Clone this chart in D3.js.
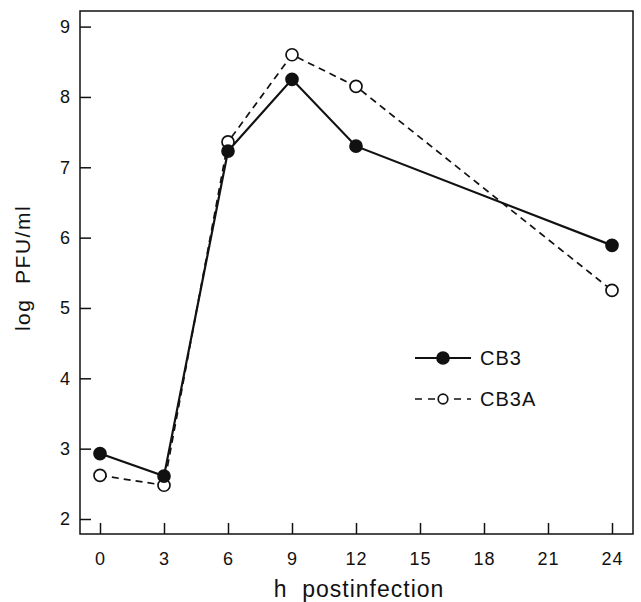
<!DOCTYPE html>
<html>
<head>
<meta charset="utf-8">
<script src="https://cdn.jsdelivr.net/npm/d3@7"></script>
<style>
  body { margin: 0; background: #fff; }
  svg { display: block; }
  text { font-family: "Liberation Sans", Arial, Helvetica, sans-serif; fill: #111; }
</style>
</head>
<body>
<svg id="chart" width="641" height="602"></svg>
<script>
// hours post infection
var hours = [0, 3, 6, 9, 12, 24];
// log PFU/ml
var cb3 = [2.93, 2.61, 7.23, 8.25, 7.30, 5.89];
var cb3a = [2.62, 2.48, 7.36, 8.60, 8.15, 5.25];
var xTicks = [0, 3, 6, 9, 12, 15, 18, 21, 24];
var yTicks = [2, 3, 4, 5, 6, 7, 8, 9];
var series = [
    { name: "CB3", values: cb3, filled: true },
    { name: "CB3A", values: cb3a, filled: false }
];

var svg = d3.select("#chart");
var frame = { left: 80, right: 633, top: 11, bottom: 534 };

var x = d3.scaleLinear().domain([0, 24]).range([100, 612]);
var y = d3.scaleLinear().domain([2, 9]).range([519, 26.6]);

// box round the plot
svg.append("rect")
    .attr("x", frame.left).attr("y", frame.top)
    .attr("width", frame.right - frame.left)
    .attr("height", frame.bottom - frame.top)
    .attr("fill", "none").attr("stroke", "#111").attr("stroke-width", 1.5);

// axes, ticks pointing inside
var gx = svg.append("g").attr("transform", `translate(0,${frame.bottom})`)
    .call(d3.axisBottom(x).tickValues(xTicks).tickFormat(d3.format("d"))
        .tickSizeInner(-11).tickSizeOuter(0).tickPadding(18));
var gy = svg.append("g").attr("transform", `translate(${frame.left},0)`)
    .call(d3.axisLeft(y).tickValues(yTicks).tickFormat(d3.format("d"))
        .tickSizeInner(-11).tickSizeOuter(0).tickPadding(9));

[gx, gy].forEach(function (g) {
    g.select(".domain").remove();
    g.selectAll("line").attr("stroke", "#111").attr("stroke-width", 1.5);
    g.selectAll("text").attr("font-size", 18).style("letter-spacing", "1px")
        .attr("font-family", null).attr("fill", "#111");
});

// axis titles
svg.append("text")
    .attr("x", 359).attr("y", 597)
    .attr("text-anchor", "middle").attr("font-size", 23)
    .style("letter-spacing", "1px")
    .text("h\u00a0\u00a0postinfection");

svg.append("text")
    .attr("transform", "translate(30,268) rotate(-90)")
    .attr("text-anchor", "middle").attr("font-size", 21)
    .style("letter-spacing", "1.5px")
    .text("log\u00a0\u00a0PFU/ml");

var line = d3.line()
    .x(function (d, i) { return x(hours[i]); })
    .y(function (d) { return y(d); });

// dashed series first, solid on top
series.slice().reverse().forEach(function (s) {
    svg.append("path")
        .datum(s.values)
        .attr("d", line)
        .attr("fill", "none")
        .attr("stroke", "#111")
        .attr("stroke-width", s.filled ? 2.2 : 1.7)
        .attr("stroke-dasharray", s.filled ? null : "7,5");
});

series.slice().reverse().forEach(function (s) {
    svg.append("g").selectAll("circle")
        .data(s.values)
        .enter().append("circle")
        .attr("cx", function (d, i) { return x(hours[i]); })
        .attr("cy", function (d) { return y(d); })
        .attr("r", 6)
        .attr("fill", s.filled ? "#111" : "#fff")
        .attr("stroke", "#111")
        .attr("stroke-width", 1.7);
});

// legend
var legend = svg.append("g").attr("transform", "translate(415,358)");
series.forEach(function (s, i) {
    var row = legend.append("g").attr("transform", `translate(0,${i * 41})`);
    row.append("line")
        .attr("x1", 0).attr("x2", 56)
        .attr("stroke", "#111")
        .attr("stroke-width", s.filled ? 2.2 : 1.7)
        .attr("stroke-dasharray", s.filled ? null : "7,6");
    row.append("circle")
        .attr("cx", 28).attr("r", s.filled ? 6 : 4.8)
        .attr("fill", s.filled ? "#111" : "#fff")
        .attr("stroke", "#111").attr("stroke-width", 1.7);
    row.append("text")
        .attr("x", 65).attr("dy", "0.36em")
        .attr("font-size", 20).style("letter-spacing", "1px")
        .text(s.name);
});
</script>
</body>
</html>
